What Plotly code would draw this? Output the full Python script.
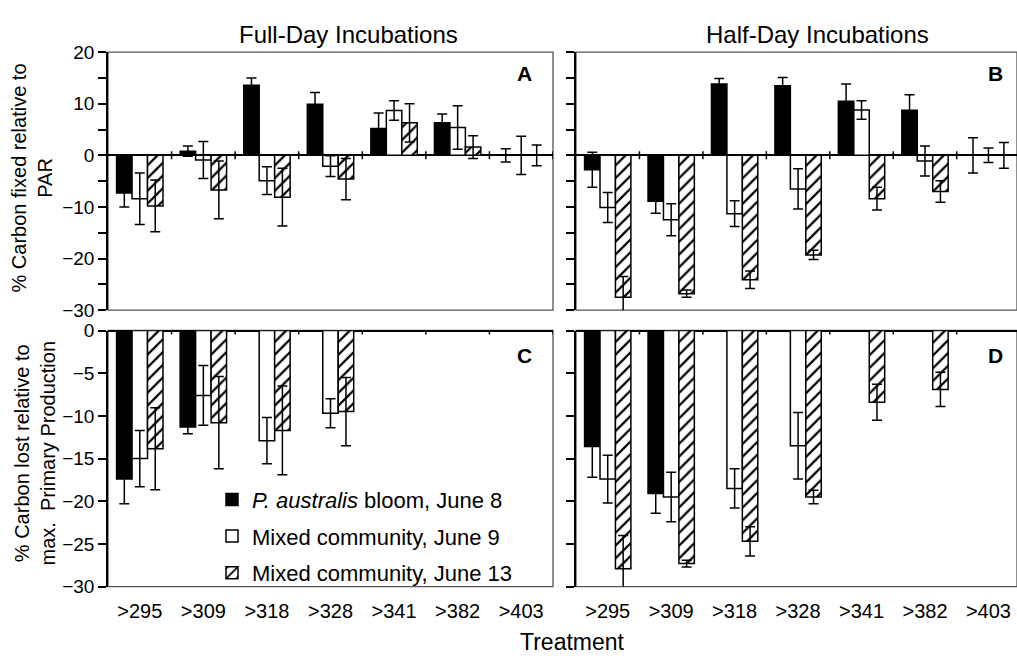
import plotly.graph_objects as go

W, H = 1017, 662
FONT = "Liberation Sans, Arial, Helvetica, sans-serif"

treatments = [">295", ">309", ">318", ">328", ">341", ">382", ">403"]
series_names = ["<i>P. australis</i> bloom, June 8", "Mixed community, June 9", "Mixed community, June 13"]

# Panel A: Full-day, % carbon fixed relative to PAR
A_bloom = [-7.3, 0.8, 13.6, 9.9, 5.2, 6.3, 0]
A_bloom_err = [2.7, 1.0, 1.4, 2.3, 3.0, 1.7, 1.3]
A_jun9 = [-8.4, -0.9, -4.9, -2.1, 8.7, 5.4, 0]
A_jun9_err = [5.0, 3.6, 2.7, 2.0, 1.9, 4.2, 3.7]
A_jun13 = [-9.8, -6.7, -8.1, -4.6, 6.3, 1.6, 0]
A_jun13_err = [5.0, 5.6, 5.6, 4.0, 3.7, 2.2, 2.0]

# Panel B: Half-day, % carbon fixed relative to PAR
B_bloom = [-2.8, -8.9, 13.8, 13.5, 10.5, 8.75, 0]
B_bloom_err = [3.4, 2.3, 1.1, 1.6, 3.3, 3.0, 3.4]
B_jun9 = [-10.1, -12.5, -11.3, -6.5, 8.8, -1.1, 0]
B_jun9_err = [2.9, 3.1, 2.5, 3.9, 1.8, 2.9, 1.4]
B_jun13 = [-27.5, -26.8, -24.1, -19.3, -8.4, -7.0, 0]
B_jun13_err = [4.0, 0.7, 1.7, 0.9, 2.2, 2.1, 2.5]

# Panel C: Full-day, % carbon lost relative to max. primary production
C_bloom = [-17.4, -11.3, None, None, None, None, None]
C_bloom_err = [2.9, 0.8, None, None, None, None, None]
C_jun9 = [-15.0, -7.6, -12.9, -9.7, None, None, None]
C_jun9_err = [3.3, 3.5, 2.7, 1.7, None, None, None]
C_jun13 = [-13.85, -10.8, -11.7, -9.5, None, None, None]
C_jun13_err = [4.8, 5.4, 5.2, 4.0, None, None, None]

# Panel D: Half-day, % carbon lost relative to max. primary production
D_bloom = [-13.6, -19.1, None, None, None, None, None]
D_bloom_err = [3.6, 2.3, None, None, None, None, None]
D_jun9 = [-17.4, -19.5, -18.5, -13.5, None, None, None]
D_jun9_err = [2.8, 2.9, 2.3, 3.9, None, None, None]
D_jun13 = [-27.9, -27.3, -24.7, -19.5, -8.4, -6.9, None]
D_jun13_err = [3.9, 0.4, 1.7, 0.8, 2.1, 2.0, None]

xpos = list(range(len(treatments)))

styles = [
    dict(color="black", line=dict(color="black", width=1.5)),
    dict(color="white", line=dict(color="black", width=1.5)),
    dict(color="white", line=dict(color="black", width=1.5),
         pattern=dict(shape="/", fgcolor="black", bgcolor="white", size=9,
                      solidity=0.25, fgopacity=1)),
]

panels = [
    ("x", "y", [A_bloom, A_jun9, A_jun13], [A_bloom_err, A_jun9_err, A_jun13_err], False),
    ("x2", "y2", [B_bloom, B_jun9, B_jun13], [B_bloom_err, B_jun9_err, B_jun13_err], False),
    ("x3", "y3", [C_bloom, C_jun9, C_jun13], [C_bloom_err, C_jun9_err, C_jun13_err], True),
    ("x4", "y4", [D_bloom, D_jun9, D_jun13], [D_bloom_err, D_jun9_err, D_jun13_err], False),
]

fig = go.Figure()
for xa, ya, vals, errs, show in panels:
    for i in range(3):
        fig.add_trace(go.Bar(
            x=xpos, y=vals[i], xaxis=xa, yaxis=ya,
            name=series_names[i], legendgroup="g%d" % i, showlegend=show,
            marker=styles[i],
            error_y=dict(type="data", array=errs[i], visible=True, color="black",
                         thickness=1.5, width=5),
        ))

def px_x(p):
    return p / W

def px_y(p):
    return 1 - p / H

domA_x = [px_x(108), px_x(553)]
domB_x = [px_x(576), 1.0]
dom_top_y = [px_y(310), px_y(43.5)]
dom_bot_y = [px_y(595.5), px_y(331)]

tick_font = dict(family=FONT, size=19, color="black")

def yax(domain, rng, tickvals, ticktext, labels):
    return dict(domain=domain, range=rng, tickvals=tickvals, ticktext=ticktext,
                showticklabels=labels, ticks="outside", ticklen=8, tickwidth=1.5,
                tickcolor="black", showline=True, linecolor="black", linewidth=1.5,
                zeroline=True, zerolinecolor="black", zerolinewidth=2,
                showgrid=False, tickfont=tick_font, fixedrange=True)

top_vals = [20, 15, 10, 5, 0, -5, -10, -15, -20, -25, -30]
top_text = ["20", "", "10", "", "0", "", "\u221210", "", "\u221220", "", "\u221230"]
bot_vals = [0, -5, -10, -15, -20, -25, -30]
bot_text = ["0", "\u22125", "\u221210", "\u221215", "\u221220", "\u221225", "\u221230"]

def xax(domain, rng, anchor, labels):
    return dict(domain=domain, range=rng, anchor=anchor, tickvals=xpos, ticktext=treatments,
                showticklabels=labels, ticks="outside", ticklen=6,
                tickcolor="rgba(0,0,0,0)", showline=False, zeroline=False,
                showgrid=False, tickfont=dict(family=FONT, size=20, color="black"),
                fixedrange=True)

fig.update_layout(
    width=W, height=H,
    margin=dict(l=0, r=0, t=0, b=0),
    paper_bgcolor="white", plot_bgcolor="white",
    barmode="group", bargap=0.27, bargroupgap=0,
    font=dict(family=FONT, color="black"),
    xaxis=xax(domA_x, [-0.5, 6.5], "y", False),
    xaxis2=xax(domB_x, [-0.5, 6.45], "y2", False),
    xaxis3=xax(domA_x, [-0.5, 6.5], "y3", True),
    xaxis4=xax(domB_x, [-0.5, 6.45], "y4", True),
    yaxis=yax(dom_top_y, [-30, 20], top_vals, top_text, True) | dict(anchor="x"),
    yaxis2=yax(dom_top_y, [-30, 20], top_vals, top_text, False) | dict(anchor="x2"),
    yaxis3=yax(dom_bot_y, [-30, 0], bot_vals, bot_text, True) | dict(anchor="x3"),
    yaxis4=yax(dom_bot_y, [-30, 0], bot_vals, bot_text, False) | dict(anchor="x4"),
    legend=dict(x=px_x(212), y=px_y(484), xanchor="left", yanchor="top",
                font=dict(family=FONT, size=22, color="black"),
                bgcolor="rgba(0,0,0,0)", tracegroupgap=5, traceorder="grouped"),
)

shapes = []
# grey frames
for xr, yr in [("x", "y"), ("x2", "y2"), ("x3", "y3"), ("x4", "y4")]:
    shapes.append(dict(type="rect", xref=xr + " domain", yref=yr + " domain",
                       x0=0, x1=1, y0=0, y1=1, line=dict(color="#555555", width=1.3),
                       layer="below"))
# tick marks crossing the zero line at treatment boundaries
for xr, yr, nb in [("x", "y", 7), ("x2", "y2", 6), ("x3", "y3", 7), ("x4", "y4", 6)]:
    for k in range(nb):
        shapes.append(dict(type="line", xref=xr, yref=yr, x0=k + 0.5, x1=k + 0.5,
                           ysizemode="pixel", yanchor=0, y0=-4, y1=4,
                           line=dict(color="black", width=1.5)))
fig.update_layout(shapes=shapes)

def note(text, x, y, size, angle=0):
    return dict(text=text, x=px_x(x), y=px_y(y), xref="paper", yref="paper",
                xanchor="center", yanchor="middle", showarrow=False, textangle=angle,
                font=dict(family=FONT, size=size, color="black"))

ann = [
    note("Full-Day Incubations", 348, 25, 24),
    note("Half-Day Incubations", 817, 25, 24),
    note("% Carbon fixed relative to<br>PAR", 32, 174, 20, -90),
    note("% Carbon lost relative to<br>max.  Primary Production", 35, 458, 20, -90),
    note("Treatment", 572, 653, 23),
]
for letter, xx, yy in [("A", 524, 66), ("B", 995, 66), ("C", 524, 357), ("D", 995, 357)]:
    ann.append(note("<b>%s</b>" % letter, xx, yy, 21))
fig.update_layout(annotations=ann)

fig.write_html("out.html")
